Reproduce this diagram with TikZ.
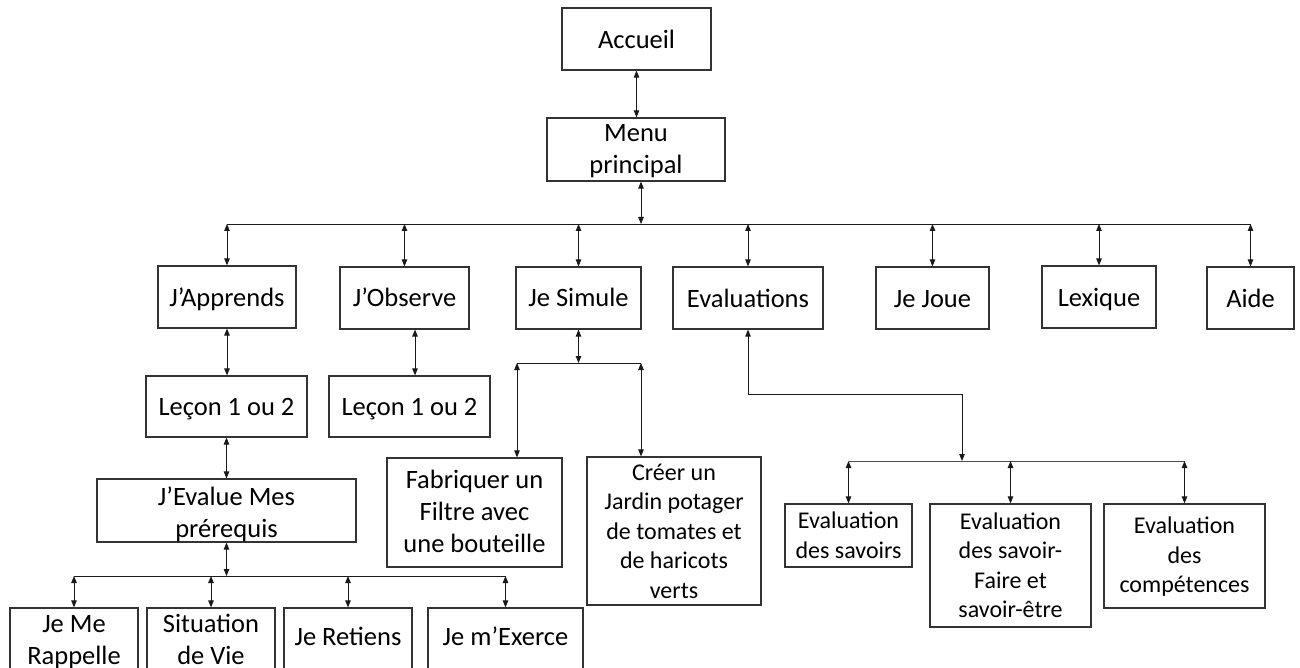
\documentclass[tikz,border=0pt]{standalone}
\usepackage{fontspec}
\setmainfont{Carlito}
\usetikzlibrary{arrows.meta,fit,calc}
\newcommand\fa{\fontsize{26.5}{32}\selectfont}
\newcommand\fb{\fontsize{24}{29.5}\selectfont}
\begin{document}
\begin{tikzpicture}[x=1pt,y=-1pt,
  box/.style={draw=black!80,line width=1.2pt,inner sep=0pt,rectangle},
  txt/.style={inner sep=0pt,align=center,text=black},
  ta/.style={txt,font=\fa},
  tb/.style={txt,font=\fb},
  link/.style={line width=0.9pt,draw=black!90,{Triangle[length=7pt,width=5.5pt]}-{Triangle[length=7pt,width=5.5pt]}},
  busline/.style={line width=0.9pt,draw=black!90},
  thinbus/.style={line width=0.7pt,draw=black!70}]
\clip (0,0) rectangle (1300,668);
\fill[white] (0,0) rectangle (1300,668);

% boxes
\node[box,fit={(562,8) (711,70)}] (acc) {};
\node[box,fit={(547,118) (725,181)}] (menu) {};
\node[box,fit={(158,266) (296,328)}] (ja) {};
\node[box,fit={(340,267) (469,329)}] (jo) {};
\node[box,fit={(516,267) (641,329)}] (js) {};
\node[box,fit={(673,267) (823,329)}] (ev) {};
\node[box,fit={(876,267) (989,329)}] (jj) {};
\node[box,fit={(1042,266) (1156,328)}] (lx) {};
\node[box,fit={(1207,267) (1294,329)}] (aide) {};
\node[box,fit={(146,376) (307,437)}] (l1) {};
\node[box,fit={(329,376) (490,437)}] (l2) {};
\node[box,fit={(97,479) (356,542)}] (jem) {};
\node[box,fit={(387,458) (562,567)}] (fab) {};
\node[box,fit={(587,457) (761,605)}] (cr) {};
\node[box,fit={(785,504) (912,567)}] (e1) {};
\node[box,fit={(930,504) (1091,627)}] (e2) {};
\node[box,fit={(1104,504) (1265,608)}] (e3) {};
\node[box,fit={(10,608) (138,690)}] (r1) {};
\node[box,fit={(147,608) (275,690)}] (r2) {};
\node[box,fit={(284,608) (412,690)}] (r3) {};
\node[box,fit={(428,608) (583,690)}] (r4) {};

% labels
\node[ta] (acc-t) at (636.5,42.6) {\strut Accueil};
\node[ta] (menu-t) at (636,151) {\strut Menu\\\strut principal};
\node[ta] (ja-t) at (227,300) {\strut J’Apprends};
\node[ta] (jo-t) at (404.5,300) {\strut J’Observe};
\node[ta] (js-t) at (578.5,300) {\strut Je Simule};
\node[ta] (ev-t) at (748,300.6) {\strut Evaluations};
\node[ta] (jj-t) at (932.5,300.6) {\strut Je Joue};
\node[ta] (lx-t) at (1099,299.6) {\strut Lexique};
\node[ta] (aide-t) at (1250.5,300.6) {\strut Aide};
\node[ta] (l1-t) at (226.5,408.6) {\strut Leçon 1 ou 2};
\node[ta] (l2-t) at (409.5,408.6) {\strut Leçon 1 ou 2};
\node[ta] (jem-t) at (226.5,515.3) {\strut J’Evalue Mes\\\strut prérequis};
\node[ta] (fab-t) at (474.5,514.3) {\strut Fabriquer un\\\strut Filtre avec\\\strut une bouteille};
\node[tb] (cr-t) at (674,533.3) {\strut Créer un\\\strut Jardin potager\\\strut de tomates et\\\strut de haricots\\\strut verts};
\node[tb] (e1-t) at (848.5,537.4) {\strut Evaluation\\\strut des savoirs};
\node[tb] (e2-t) at (1010.5,567.5) {\strut Evaluation\\\strut des savoir-\\\strut Faire et\\\strut savoir-être};
\node[tb] (e3-t) at (1184.5,557.4) {\strut Evaluation\\\strut des\\\strut compétences};
\node[ta] (r1-t) at (74,641.6) {\strut Je Me\\\strut Rappelle};
\node[ta] (r2-t) at (211,641.6) {\strut Situation\\\strut de Vie};
\node[ta] (r3-t) at (348,638.6) {\strut Je Retiens};
\node[ta] (r4-t) at (505.5,638.6) {\strut Je m’Exerce};

% junction points
\coordinate (busT) at (641,224);
\coordinate (b2) at (226.5,576);
\coordinate (s3L) at (517,363);
\coordinate (s3R) at (641,363);
\coordinate (evK) at (962,394);
\coordinate (b4) at (962,461);

% top level
\draw[link] (acc.south) -- (acc.south |- menu.north);
\draw[link] ($(menu.south)+(5,0)$) -- (busT);
\draw[busline] (ja.north |- busT) -- (aide.north |- busT);
\foreach \n in {ja,jo,js,ev,jj,lx,aide}
  \draw[link] (\n.north |- busT) -- (\n.north);

% J'Apprends branch
\draw[link] (ja.south) -- (ja.south |- l1.north);
\draw[link] ($(jo.south -| l2.north)+(5.5,0)$) -- ($(l2.north)+(5.5,0)$);
\draw[link] (l1.south) -- (l1.south |- jem.north);
\draw[link] (jem.south) -- (b2);
\draw[busline] (r1.north |- b2) -- (r4.north |- b2);
\foreach \n in {r1,r2,r3,r4}
  \draw[link] (\n.north |- b2) -- (\n.north);

% Je Simule branch
\draw[link] (js.south) -- (js.south |- s3L);
\draw[busline] (s3L) -- (s3R);
\draw[link] (s3L) -- (s3L |- fab.north);
\draw[link] (s3R) -- (s3R |- cr.north);

% Evaluations branch
\draw[link] (ev.south) -- (ev.south |- evK) -- (evK) -- (b4);
\draw[thinbus] (e1.north |- b4) -- (e3.north |- b4);
\foreach \n in {e1,e2,e3}
  \draw[link] (\n.north |- b4) -- (\n.north);
\end{tikzpicture}
\end{document}
